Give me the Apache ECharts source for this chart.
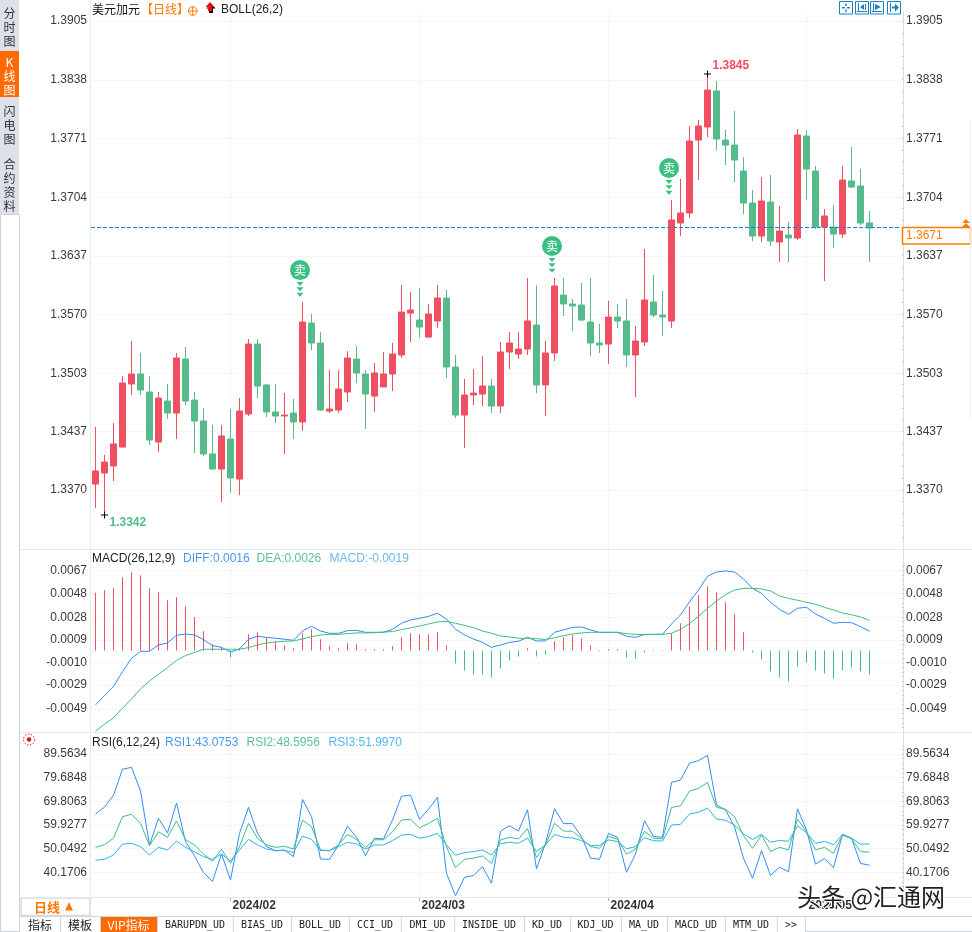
<!DOCTYPE html>
<html>
<head>
<meta charset="utf-8">
<title>美元加元 日线</title>
<script src="https://cdn.jsdelivr.net/npm/echarts@6/dist/echarts.min.js"></script>
<style>
html, body { margin: 0; padding: 0; background: #fff; }
#chart { width: 972px; height: 932px; }
</style>
</head>
<body>
<div id="chart"></div>
<script>
// K线 [open, close, low, high]
var candles = [
    [1.33768,1.33917,1.33494,1.34419],[1.33894,1.34019,1.33415,1.34099],[1.33974,1.34225,1.33803,1.34464],
    [1.34190,1.34920,1.34190,1.35000],[1.34909,1.35023,1.34784,1.35400],[1.35023,1.34841,1.34784,1.35263],
    [1.34818,1.34270,1.34213,1.35000],[1.34247,1.34749,1.34133,1.34818],[1.34715,1.34578,1.34510,1.34909],
    [1.34578,1.35206,1.34282,1.35263],[1.35194,1.34715,1.34669,1.35331],[1.34726,1.34487,1.34122,1.34818],
    [1.34487,1.34111,1.34088,1.34635],[1.34111,1.33939,1.33939,1.34441],[1.33939,1.34316,1.33563,1.34441],
    [1.34282,1.33837,1.33666,1.34624],[1.33825,1.34601,1.33643,1.34749],[1.34567,1.35365,1.34544,1.35422],
    [1.35365,1.34886,1.34749,1.35422],[1.34898,1.34590,1.34533,1.34909],[1.34590,1.34544,1.34464,1.34909],
    [1.34544,1.34555,1.34111,1.34806],[1.34578,1.34476,1.34282,1.34738],[1.34476,1.35616,1.34373,1.35844],
    [1.35605,1.35377,1.35297,1.35708],[1.35377,1.34612,1.34601,1.35502],[1.34601,1.34624,1.34578,1.35069],
    [1.34612,1.34852,1.34578,1.35069],[1.34818,1.35206,1.34704,1.35285],[1.35194,1.35035,1.34920,1.35343],
    [1.35023,1.34795,1.34396,1.35069],[1.34772,1.35035,1.34590,1.35149],[1.34875,1.35023,1.34875,1.35274],
    [1.35023,1.35251,1.34829,1.35377],[1.35240,1.35730,1.35206,1.36038],[1.35719,1.35753,1.35388,1.35958],
    [1.35639,1.35559,1.35434,1.36004],[1.35445,1.35708,1.35434,1.35822],[1.35628,1.35890,1.35548,1.36038],
    [1.35890,1.35103,1.34977,1.35981],[1.35103,1.34555,1.34521,1.35240],[1.34555,1.34784,1.34179,1.34966],
    [1.34784,1.34806,1.34669,1.35080],[1.34795,1.34886,1.34658,1.35228],[1.34886,1.34658,1.34578,1.34966],
    [1.34658,1.35274,1.34578,1.35388],[1.35274,1.35377,1.35080,1.35502],[1.35251,1.35308,1.35194,1.35502],
    [1.35308,1.35628,1.35240,1.36118],[1.35582,1.34898,1.34806,1.36038],[1.34898,1.35263,1.34544,1.35400],
    [1.35263,1.36027,1.35171,1.36118],[1.35924,1.35822,1.35685,1.36118],[1.35822,1.35799,1.35514,1.35879],
    [1.35810,1.35639,1.35628,1.36061],[1.35616,1.35377,1.35228,1.36118],[1.35377,1.35354,1.35263,1.35594],
    [1.35365,1.35673,1.35137,1.35856],[1.35673,1.35628,1.35548,1.35822],[1.35628,1.35240,1.35103,1.35879],
    [1.35240,1.35400,1.34761,1.35571],[1.35388,1.35867,1.35343,1.36449],[1.35844,1.35696,1.35673,1.36152],
    [1.35696,1.35673,1.35457,1.35970],[1.35628,1.36780,1.35548,1.37008],[1.36746,1.36860,1.36597,1.37248],
    [1.36860,1.37681,1.36803,1.37852],[1.37692,1.37852,1.37236,1.37921],[1.37841,1.38263,1.37727,1.38445],
    [1.38252,1.37704,1.37578,1.38366],[1.37692,1.37635,1.37407,1.37807],[1.37635,1.37464,1.37213,1.38023],
    [1.37339,1.36974,1.36848,1.37499],[1.36974,1.36597,1.36540,1.37122],[1.36597,1.36997,1.36529,1.37270],
    [1.36985,1.36540,1.36483,1.37293],[1.36529,1.36654,1.36301,1.36940],[1.36609,1.36575,1.36301,1.36757],
    [1.36575,1.37750,1.36552,1.37818],[1.37738,1.37362,1.37008,1.37807],[1.37339,1.36700,1.36677,1.37396],
    [1.36700,1.36826,1.36084,1.36905],[1.36700,1.36620,1.36460,1.36951],[1.36620,1.37236,1.36575,1.37396],
    [1.37225,1.37156,1.37145,1.37613],[1.37168,1.36746,1.36723,1.37362],[1.36746,1.36689,1.36301,1.36883]
];

var macdBars = [
    .00486,.00506,.00523,.00615,.00657,.00632,.00523,.00489,.00422,.00447,
    .00372,.00280,.00162,.00053,.00028,-.00056,.00017,.00137,.00154,.00112,
    .00078,.00045,.00020,.00145,.00179,.00095,.00036,.00020,.00062,.00053,
    .00011,.00011,.00011,.00036,.00112,.00145,.00137,.00137,.00154,.00045,
    -.00109,-.00168,-.00201,-.00201,-.00226,-.00151,-.00084,-.00050,.00020,-.00050,
    -.00034,.00078,.00112,.00129,.00103,.00045,-.00006,.00011,.00011,-.00059,
    -.00067,-.00017,-.00006,-.00006,.00145,.00229,.00372,.00464,.00540,.00489,
    .00405,.00305,.00154,-.00017,-.00075,-.00176,-.00226,-.00260,-.00134,-.00101,
    -.00168,-.00193,-.00235,-.00168,-.00143,-.00176,-.00201
];
var diffLine = [
    -.00456,-.00378,-.00300,-.00177,-.00065,-.00006,-.00006,.00047,.00064,.00128,
    .00139,.00131,.00092,.00041,.00027,-.00012,.00013,.00095,.00120,.00111,
    .00103,.00095,.00086,.00164,.00204,.00164,.00145,.00145,.00167,.00170,
    .00153,.00153,.00153,.00178,.00229,.00257,.00271,.00287,.00313,.00265,
    .00178,.00131,.00097,.00069,.00027,.00047,.00069,.00078,.00111,.00081,
    .00081,.00153,.00173,.00195,.00198,.00173,.00153,.00153,.00153,.00120,
    .00111,.00134,.00136,.00136,.00223,.00299,.00408,.00508,.00623,.00659,
    .00668,.00659,.00601,.00522,.00480,.00405,.00346,.00304,.00355,.00363,
    .00307,.00271,.00229,.00237,.00234,.00201,.00162
];
var deaLine = [
    -.00674,-.00618,-.00563,-.00484,-.00406,-.00322,-.00255,-.00199,-.00143,-.00082,
    -.00042,-.00015,.00011,.00011,.00011,.00011,.00011,.00025,.00047,.00064,
    .00072,.00078,.00081,.00097,.00117,.00131,.00136,.00136,.00142,.00148,
    .00148,.00150,.00156,.00159,.00176,.00190,.00206,.00223,.00240,.00245,
    .00229,.00212,.00192,.00164,.00145,.00122,.00114,.00103,.00103,.00100,
    .00092,.00108,.00125,.00139,.00148,.00153,.00153,.00153,.00153,.00142,
    .00136,.00136,.00136,.00136,.00145,.00178,.00226,.00287,.00355,.00416,
    .00469,.00508,.00522,.00522,.00517,.00500,.00458,.00438,.00422,.00405,
    .00388,.00363,.00341,.00315,.00301,.00282,.00254
];
var rsi1 = [
    64.5,67.4,72.4,83.2,84.0,74.1,51.6,62.7,56.6,69.1,
    53.0,47.0,40.0,36.4,47.8,37.0,56.4,67.3,56.4,50.9,
    49.2,49.5,46.7,70.6,63.4,45.7,45.6,51.6,59.4,54.8,
    47.1,54.4,54.1,62.0,71.9,72.4,62.3,66.5,71.5,39.7,
    30.4,38.1,38.8,42.5,35.6,57.4,59.6,57.4,66.3,41.6,
    52.3,66.7,60.5,60.5,55.1,46.1,45.6,56.4,54.8,40.2,
    47.8,61.7,55.1,54.8,77.7,78.7,85.7,86.8,89.0,68.3,
    66.2,59.2,46.0,37.7,49.2,38.9,42.3,40.4,66.7,57.8,
    43.6,45.9,42.1,56.0,54.4,43.9,43.1
];
var rsi2 = [
    50.6,51.7,54.4,63.4,64.4,60.6,51.3,57.1,54.8,61.6,
    53.8,51.6,47.7,44.8,49.8,43.9,50.9,60.6,54.4,51.6,
    50.6,51.0,49.9,61.9,59.2,49.5,49.2,51.6,56.0,53.9,
    50.6,53.7,53.8,57.1,62.0,62.3,58.7,60.6,62.7,50.9,
    42.1,45.6,46.1,47.0,43.9,53.7,54.8,54.1,58.5,46.3,
    51.6,60.6,57.4,57.3,54.4,50.9,50.2,55.1,54.1,47.7,
    49.8,57.3,54.4,54.1,67.3,67.9,74.1,75.2,77.7,67.3,
    66.5,63.4,55.5,50.2,55.7,48.9,50.6,49.5,62.4,57.1,
    49.5,50.6,48.1,55.7,54.2,48.8,48.6
];
var rsi3 = [
    45.2,45.6,47.4,51.9,52.3,50.9,47.4,50.6,49.5,53.2,
    50.6,48.7,46.7,45.6,47.8,44.9,49.5,53.9,51.6,49.9,
    49.2,49.2,48.5,55.3,53.9,49.3,49.2,50.9,52.7,52.0,
    49.9,51.6,51.6,53.4,55.7,56.0,54.4,55.1,56.4,51.6,
    47.3,48.4,48.8,49.5,47.4,52.1,52.7,52.3,54.4,48.8,
    51.6,56.0,54.8,54.5,53.4,51.4,51.4,53.7,53.0,50.0,
    50.9,54.6,53.4,53.2,59.9,60.2,64.5,65.2,67.0,62.4,
    61.9,59.9,56.2,53.9,56.0,52.7,53.5,53.1,59.6,56.7,
    52.3,53.1,51.7,55.9,54.4,51.9,52.0
];

// 刻度
var priceTicks = [1.3905, 1.3838, 1.3771, 1.3704, 1.3637, 1.3570, 1.3503, 1.3437, 1.3370];
var macdTicks = [0.0067, 0.0048, 0.0028, 0.0009, -0.0010, -0.0029, -0.0049];
var rsiTicks = [89.5634, 79.6848, 69.8063, 59.9277, 50.0492, 40.1706];
var monthLabels = ['2024/02', '2024/03', '2024/04', '2024/05'];
var monthIndex = [15, 36, 57, 79];
var sellIndex = [23, 51, 64];
var highIndex = 68, highValue = 1.38445, highText = '1.3845';
var lowIndex = 1, lowValue = 1.33415, lowText = '1.3342';
var lastPrice = 1.3670, lastText = '1.3671';
var slotCount = 90;   // 右边留了3根的空位

var RED = '#ef4f60', GREEN = '#55bb8a', BLUE = '#2f8df5', CYAN = '#2db2ea', LINEGREEN = '#3dbd85';
var ORANGE = '#ff7a00', TAB_BG = '#dde0e9', EDGE = '#d3dae2';
var NUM_FONT = '12px "Liberation Sans", Arial, sans-serif';
var CJK_FONT = '12px "Noto Sans CJK SC", sans-serif';

var categories = [];
for (var i = 0; i < slotCount; i++) { categories.push(''); }
for (var m = 0; m < monthIndex.length; m++) { categories[monthIndex[m]] = monthLabels[m]; }

// 次刻度，右侧小点
function subTicks(ticks) {
    var out = [];
    var step = (ticks[ticks.length - 1] - ticks[0]) / (ticks.length - 1) / 5;
    for (var k = -1; k < (ticks.length - 1) * 5 + 5; k++) {
        out.push(ticks[0] + step * k);
    }
    return out;
}

function xAxisFor(gridIndex, withLabel) {
    var isMonth = function (index, value) { return value !== ''; };
    return {
        type: 'category',
        gridIndex: gridIndex,
        data: categories,
        boundaryGap: true,
        axisLine: { show: false },
        axisTick: { show: withLabel, alignWithLabel: true, interval: isMonth, length: 4, lineStyle: { color: '#aab2bb' } },
        axisLabel: {
            show: withLabel,
            interval: isMonth,
            align: 'left',
            margin: 2,
            padding: [0, 0, 0, 2],
            fontFamily: '"Liberation Sans", Arial, sans-serif',
            fontWeight: 'bold',
            fontSize: 12,
            lineHeight: 14,
            color: '#333'
        },
        splitLine: { show: true, alignWithLabel: true, interval: isMonth, lineStyle: { color: '#ebebeb', type: 'dotted' } }
    };
}

function yAxisPair(gridIndex, min, max, ticks, digits) {
    var fmt = function (v) { return v.toFixed(digits); };
    var base = {
        type: 'value',
        gridIndex: gridIndex,
        min: min,
        max: max,
        scale: true,
        axisLabel: {
            customValues: ticks,
            formatter: fmt,
            fontFamily: '"Liberation Sans", Arial, sans-serif',
            fontSize: 12,
            color: '#3a3a3a',
            margin: 4
        }
    };
    var left = echarts.util.merge({
        position: 'left',
        axisLine: { show: false },
        axisTick: { show: false, customValues: ticks },
        splitLine: { show: true, lineStyle: { color: '#ececec', type: 'dotted' } }
    }, base, true);
    var right = echarts.util.merge({
        position: 'right',
        offset: 2,
        axisLine: { show: true, lineStyle: { color: '#d6d6d6', type: 'dotted' } },
        axisTick: { show: true, customValues: subTicks(ticks), length: 1, inside: true, lineStyle: { color: '#b5b5b5' } },
        splitLine: { show: false }
    }, base, true);
    right.axisLabel.margin = 3;
    return [left, right];
}

function sellMarks() {
    var out = [];
    for (var s = 0; s < sellIndex.length; s++) {
        var at = [sellIndex[s], candles[sellIndex[s]][3]];
        out.push({
            coord: at,
            symbol: 'circle',
            symbolSize: 20,
            symbolOffset: [-2.5, -32],
            itemStyle: { color: '#3cbf82' },
            label: { show: true, position: 'inside', formatter: '卖', color: '#fff', fontSize: 12, fontFamily: '"Noto Sans CJK SC", sans-serif' }
        });
        var offsets = [-18, -12.7, -7.4];
        for (var t2 = 0; t2 < offsets.length; t2++) {
            out.push({
                coord: at,
                symbol: 'triangle',
                symbolRotate: 180,
                symbolSize: [7, 4],
                symbolOffset: [-2.5, offsets[t2]],
                itemStyle: { color: '#3cbf82' },
                label: { show: false }
            });
        }
    }
    return out;
}

function extremeMark(index, value, text, color, yShift) {
    return {
        coord: [index, value],
        symbol: 'path://M0,3H7V4H0ZM3,0H4V7H3Z',
        symbolSize: 7,
        itemStyle: { color: '#000' },
        label: {
            show: true,
            formatter: text,
            position: 'right',
            distance: 1.5,
            offset: [0, yShift],
            color: color,
            fontFamily: '"Liberation Sans", Arial, sans-serif',
            fontWeight: 'bold',
            fontSize: 12
        }
    };
}

// 周边的界面：页签、标题、图标
function t(text, x, y, font, fill, align) {
    return { type: 'text', silent: true, z: 20, style: { text: text, x: x, y: y, font: font, fill: fill, textAlign: align || 'left', textVerticalAlign: 'middle' } };
}
function box(x, y, w, h, fill, stroke, lw) {
    return { type: 'rect', silent: true, z: 5, shape: { x: x, y: y, width: w, height: h }, style: { fill: fill || 'transparent', stroke: stroke || 'transparent', lineWidth: lw || 0 } };
}
function seg(x1, y1, x2, y2, color, lw, z) {
    return { type: 'line', silent: true, z: z || 6, shape: { x1: x1, y1: y1, x2: x2, y2: y2 }, style: { stroke: color, lineWidth: lw || 1 } };
}
function poly(points, fill) {
    return { type: 'polygon', silent: true, z: 20, shape: { points: points }, style: { fill: fill } };
}

var bottomTabs = [
    ['指标', 20, 60], ['模板', 60, 100], ['VIP指标', 100, 157], ['BARUPDN_UD', 157, 233], ['BIAS_UD', 233, 291],
    ['BOLL_UD', 291, 349], ['CCI_UD', 349, 401], ['DMI_UD', 401, 454], ['INSIDE_UD', 454, 524], ['KD_UD', 524, 570],
    ['KDJ_UD', 570, 621], ['MA_UD', 621, 667], ['MACD_UD', 667, 725], ['MTM_UD', 725, 777], ['>>', 777, 805]
];
// 文字, 页签上沿, 下沿, 选中, 第一个字的中心
var sideTabs = [
    ['分时图', 0, 50, false, 13], ['K线图', 51, 97, true, 62], ['闪电图', 98, 149, false, 111.5], ['合约资料', 150, 213, false, 164]
];

function buildGraphics() {
    var g = [];
    // 分隔线
    g.push(seg(20, 549.5, 972, 549.5, '#e4eaf0'));
    g.push(seg(20, 732.5, 972, 732.5, '#e4eaf0'));
    g.push(seg(20, 897.5, 972, 897.5, '#e4eaf0'));
    g.push(seg(90.5, 0, 90.5, 897, '#e4eaf0'));
    g.push(seg(970.5, 120, 970.5, 417, '#eeeeee'));

    // 左侧页签
    g.push(box(0, 0, 19, 214, TAB_BG));
    g.push(box(0.5, 214.5, 19, 717, '#fff', '#cdd4dc', 1));
    sideTabs.forEach(function (tab) {
        if (tab[3]) { g.push(box(0, tab[1], 19, tab[2] - tab[1], '#ff6a00')); }
        tab[0].split('').forEach(function (ch, r) {
            g.push(t(ch, 9.5, tab[4] + 14 * r, CJK_FONT, tab[3] ? '#fff' : '#333', 'center'));
        });
    });

    // 标题行
    g.push(t('美元加元', 92, 9.5, CJK_FONT, '#111'));
    g.push(t('【日线】', 141, 9.5, CJK_FONT, ORANGE));
    g.push({ type: 'circle', silent: true, z: 20, shape: { cx: 192.7, cy: 11, r: 4.3 }, style: { fill: 'transparent', stroke: ORANGE, lineWidth: 1 } });
    g.push(seg(188, 11, 197.5, 11, ORANGE, 1, 20));
    g.push(seg(192.7, 6.5, 192.7, 15.5, ORANGE, 1, 20));
    g.push(poly([[206.5, 8.5], [211, 3.5], [215.5, 8.5], [213, 8.5], [213, 13], [209, 13], [209, 8.5]], '#000'));
    g.push(poly([[205.5, 7], [210, 2], [214.5, 7], [212, 7], [212, 11], [208, 11], [208, 7]], '#f01010'));
    g.push(t('BOLL(26,2)', 221, 9.5, NUM_FONT, '#222'));

    g.push(t('MACD(26,12,9)', 92, 558.5, NUM_FONT, '#222'));
    g.push(t('DIFF:0.0016', 183, 558.5, NUM_FONT, '#4a97ef'));
    g.push(t('DEA:0.0026', 256.5, 558.5, NUM_FONT, '#58c491'));
    g.push(t('MACD:-0.0019', 329.5, 558.5, NUM_FONT, '#6cb6f0'));

    g.push(t('RSI(6,12,24)', 92, 742.5, NUM_FONT, '#222'));
    g.push(t('RSI1:43.0753', 165, 742.5, NUM_FONT, '#4a97ef'));
    g.push(t('RSI2:48.5956', 246.5, 742.5, NUM_FONT, '#58c491'));
    g.push(t('RSI3:51.9970', 328.5, 742.5, NUM_FONT, '#52b8ec'));

    // RSI 左上的小太阳
    g.push({ type: 'circle', silent: true, z: 20, shape: { cx: 29, cy: 739.5, r: 2.2 }, style: { fill: '#e01010' } });
    g.push({ type: 'circle', silent: true, z: 20, shape: { cx: 29, cy: 739.5, r: 5.5 }, style: { fill: 'transparent', stroke: '#e01010', lineWidth: 1, lineDash: [1.5, 1.5] } });

    // 右上工具按钮
    var toolX = [839.5, 855.5, 870.5, 887.5], BLUEBTN = '#1b80c4';
    toolX.forEach(function (x) { g.push(box(x, 1.5, 13, 12.5, '#fff', BLUEBTN, 1)); });
    g.push(seg(842, 7.7, 845, 7.7, BLUEBTN, 1.5, 20), seg(847, 7.7, 850, 7.7, BLUEBTN, 1.5, 20), seg(846, 3.5, 846, 6, BLUEBTN, 1.5, 20), seg(846, 9.5, 846, 12, BLUEBTN, 1.5, 20));
    g.push(seg(858.5, 3, 858.5, 12, BLUEBTN, 1, 20), seg(857, 11.5, 867, 11.5, BLUEBTN, 1, 20), poly([[860, 7], [864, 4], [864, 10]], BLUEBTN), seg(865.5, 4, 865.5, 10, BLUEBTN, 1, 20));
    g.push(seg(873.5, 3, 873.5, 12, BLUEBTN, 1, 20), seg(872, 11.5, 882, 11.5, BLUEBTN, 1, 20), poly([[875, 4], [881, 7], [875, 10]], BLUEBTN));
    g.push(seg(890.5, 3, 890.5, 12, BLUEBTN, 1, 20), box(892, 6.5, 3, 2, BLUEBTN), poly([[895, 3.5], [899, 7.5], [895, 11.5]], BLUEBTN));

    // 右侧现价框
    g.push(box(902.5, 227.5, 68, 16.5, '#fff', ORANGE, 1.5));
    g.push(t(lastText, 906, 236, NUM_FONT, ORANGE));
    g.push(poly([[966, 219], [970, 223], [962, 223]], ORANGE));
    g.push(poly([[966, 223], [970, 227], [962, 227]], ORANGE));

    // 左下周期框
    g.push(box(21, 898, 69, 17.5, '#fff', EDGE, 1.5));
    g.push(t('日线', 34, 907, 'bold 13px "Noto Sans CJK SC", sans-serif', ORANGE));
    g.push(poly([[69, 902], [73, 910.5], [65, 910.5]], ORANGE));

    // 底部页签
    g.push(seg(20, 916.5, 972, 916.5, '#cfd6de'));
    g.push(seg(805, 931.5, 972, 931.5, '#cfd6de'));
    bottomTabs.forEach(function (tab) {
        var on = tab[0] === 'VIP指标';
        var ascii = /^[A-Z_>]+$/.test(tab[0]);
        if (on) { g.push(box(tab[1], 917, tab[2] - tab[1], 15, '#ff6a00')); }
        g.push(seg(tab[2] + 0.5, 917, tab[2] + 0.5, 932, '#cfd6de'));
        g.push(t(tab[0], (tab[1] + tab[2]) / 2, 925, ascii ? '10px "DejaVu Sans Mono", monospace' : CJK_FONT, on ? '#fff' : '#222', 'center'));
    });

    // 水印
    var wm = t('头条 @汇通网', 797, 897, '24px "Noto Sans CJK SC", sans-serif', '#222');
    wm.z = 30;
    wm.style.stroke = '#fff';
    wm.style.lineWidth = 2;
    g.push(wm);
    return g;
}

var yMain = yAxisPair(0, 1.33027, 1.39153, priceTicks, 4);
var yMacd = yAxisPair(1, -0.00683, 0.00852, macdTicks, 4);
var yRsi = yAxisPair(2, 29.86, 98.75, rsiTicks, 4);

var option = {
    animation: false,
    backgroundColor: '#fff',
    grid: [
        { left: 91, width: 810, top: 12, height: 537 },
        { left: 91, width: 810, top: 549, height: 183 },
        { left: 91, width: 810, top: 732, height: 165 }
    ],
    xAxis: [xAxisFor(0, false), xAxisFor(1, false), xAxisFor(2, true)],
    yAxis: [yMain[0], yMain[1], yMacd[0], yMacd[1], yRsi[0], yRsi[1]],
    graphic: { elements: buildGraphics() },
    series: [
        {
            name: 'K',
            type: 'candlestick',
            xAxisIndex: 0,
            yAxisIndex: 0,
            barWidth: 6,
            data: candles,
            itemStyle: { color: RED, color0: GREEN, borderColor: RED, borderColor0: GREEN, borderWidth: 1 },
            markLine: {
                silent: true,
                symbol: 'none',
                precision: 5,   // 默认只保留2位小数，现价线会跑偏
                label: { show: false },
                lineStyle: { color: '#1f7fe0', type: [4, 2], width: 1 },
                data: [{ yAxis: lastPrice }]
            },
            markPoint: {
                silent: true,
                data: sellMarks().concat([
                    extremeMark(highIndex, highValue, highText, '#ee4c60', -8),
                    extremeMark(lowIndex, lowValue, lowText, '#52bb8a', 7.5)
                ])
            }
        },
        {
            name: 'MACD',
            type: 'bar',
            xAxisIndex: 1,
            yAxisIndex: 2,
            barWidth: 1,
            data: macdBars,
            itemStyle: { color: function (p) { return p.value >= 0 ? RED : LINEGREEN; } }
        },
        { name: 'DIFF', type: 'line', xAxisIndex: 1, yAxisIndex: 2, data: diffLine, showSymbol: false, lineStyle: { color: BLUE, width: 1 } },
        { name: 'DEA', type: 'line', xAxisIndex: 1, yAxisIndex: 2, data: deaLine, showSymbol: false, lineStyle: { color: LINEGREEN, width: 1 } },
        { name: 'RSI1', type: 'line', xAxisIndex: 2, yAxisIndex: 4, data: rsi1, showSymbol: false, lineStyle: { color: BLUE, width: 1 } },
        { name: 'RSI2', type: 'line', xAxisIndex: 2, yAxisIndex: 4, data: rsi2, showSymbol: false, lineStyle: { color: LINEGREEN, width: 1 } },
        { name: 'RSI3', type: 'line', xAxisIndex: 2, yAxisIndex: 4, data: rsi3, showSymbol: false, lineStyle: { color: CYAN, width: 1 } }
    ]
};

var myChart = echarts.init(document.getElementById('chart'));
myChart.setOption(option);
</script>
</body>
</html>
